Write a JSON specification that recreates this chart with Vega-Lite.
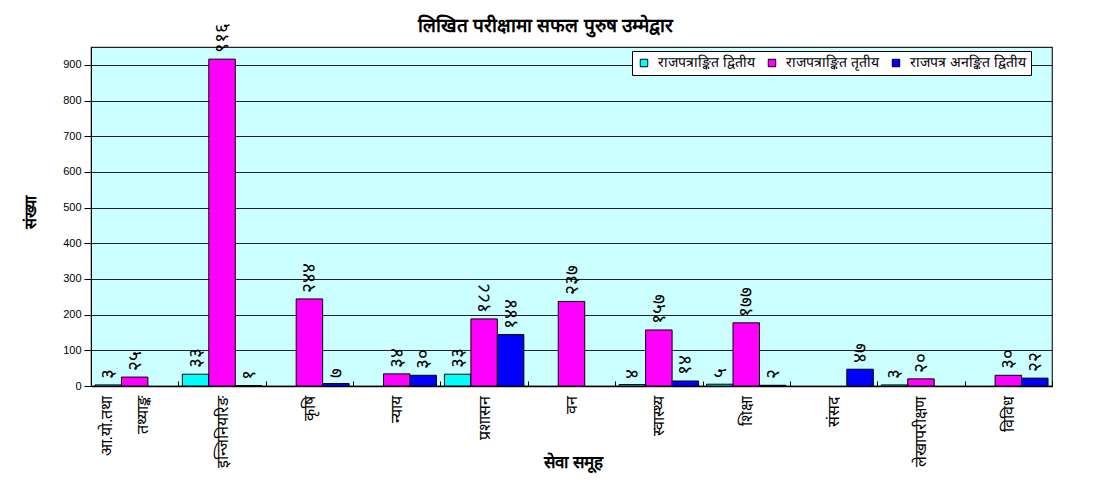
{
  "$schema": "https://vega.github.io/schema/vega-lite/v6.json",
  "width": 961,
  "height": 339,
  "autosize": {"type": "none"},
  "padding": {"left": 91, "top": 47, "right": 44, "bottom": 100},
  "background": "white",
  "title": {"text": "लिखित परीक्षामा सफल पुरुष उम्मेद्वार", "fontSize": 19, "fontWeight": "bold", "anchor": "middle", "dx": -26, "offset": -13, "color": "#000"},
  "config": {
    "font": "Liberation Sans",
    "view": {"fill": "#CCFFFF", "stroke": "#222", "strokeWidth": 1.2},
    "legend": {"strokeWidth": 1}
  },
  "data": {"values": [
    {"grp": "आ.यो.तथा तथ्याङ्क", "ser": "राजपत्राङ्कित द्वितीय", "v": 3, "lab": "३"},
    {"grp": "आ.यो.तथा तथ्याङ्क", "ser": "राजपत्राङ्कित तृतीय", "v": 25, "lab": "२५"},
    {"grp": "इन्जिनियरिङ", "ser": "राजपत्राङ्कित द्वितीय", "v": 33, "lab": "३३"},
    {"grp": "इन्जिनियरिङ", "ser": "राजपत्राङ्कित तृतीय", "v": 916, "lab": "९१६"},
    {"grp": "इन्जिनियरिङ", "ser": "राजपत्र अनङ्कित द्वितीय", "v": 1, "lab": "१"},
    {"grp": "कृषि", "ser": "राजपत्राङ्कित तृतीय", "v": 244, "lab": "२४४"},
    {"grp": "कृषि", "ser": "राजपत्र अनङ्कित द्वितीय", "v": 7, "lab": "७"},
    {"grp": "न्याय", "ser": "राजपत्राङ्कित तृतीय", "v": 34, "lab": "३४"},
    {"grp": "न्याय", "ser": "राजपत्र अनङ्कित द्वितीय", "v": 30, "lab": "३०"},
    {"grp": "प्रशासन", "ser": "राजपत्राङ्कित द्वितीय", "v": 33, "lab": "३३"},
    {"grp": "प्रशासन", "ser": "राजपत्राङ्कित तृतीय", "v": 188, "lab": "१८८"},
    {"grp": "प्रशासन", "ser": "राजपत्र अनङ्कित द्वितीय", "v": 144, "lab": "१४४"},
    {"grp": "वन", "ser": "राजपत्राङ्कित तृतीय", "v": 237, "lab": "२३७"},
    {"grp": "स्वास्थ्य", "ser": "राजपत्राङ्कित द्वितीय", "v": 4, "lab": "४"},
    {"grp": "स्वास्थ्य", "ser": "राजपत्राङ्कित तृतीय", "v": 157, "lab": "१५७"},
    {"grp": "स्वास्थ्य", "ser": "राजपत्र अनङ्कित द्वितीय", "v": 14, "lab": "१४"},
    {"grp": "शिक्षा", "ser": "राजपत्राङ्कित द्वितीय", "v": 5, "lab": "५"},
    {"grp": "शिक्षा", "ser": "राजपत्राङ्कित तृतीय", "v": 177, "lab": "१७७"},
    {"grp": "शिक्षा", "ser": "राजपत्र अनङ्कित द्वितीय", "v": 2, "lab": "२"},
    {"grp": "संसद", "ser": "राजपत्र अनङ्कित द्वितीय", "v": 47, "lab": "४७"},
    {"grp": "लेखापरीक्षण", "ser": "राजपत्राङ्कित द्वितीय", "v": 3, "lab": "३"},
    {"grp": "लेखापरीक्षण", "ser": "राजपत्राङ्कित तृतीय", "v": 20, "lab": "२०"},
    {"grp": "विविध", "ser": "राजपत्राङ्कित तृतीय", "v": 30, "lab": "३०"},
    {"grp": "विविध", "ser": "राजपत्र अनङ्कित द्वितीय", "v": 22, "lab": "२२"}
  ]},
  "encoding": {
    "x": {
      "field": "grp", "type": "nominal",
      "scale": {"domain": ["आ.यो.तथा तथ्याङ्क", "इन्जिनियरिङ", "कृषि", "न्याय", "प्रशासन", "वन", "स्वास्थ्य", "शिक्षा", "संसद", "लेखापरीक्षण", "विविध"], "paddingInner": 0, "paddingOuter": 0},
      "axis": {
        "title": "सेवा समूह", "titleFontWeight": "bold", "titleFontSize": 17, "titleColor": "#000",
        "titleX": 482, "titleY": 68, "titleBaseline": "top",
        "labelAngle": 270, "labelAlign": "right", "labelBaseline": "middle",
        "labelFontSize": 16, "labelColor": "#000", "labelPadding": 14, "labelLimit": 300,
        "labelExpr": "split(datum.label, ' ')", "labelLineHeight": 36,
        "labelOffset": {"condition": {"test": "datum.value === 'आ.यो.तथा तथ्याङ्क'", "value": -28}, "value": 0},
        "tickBand": "extent", "tickSize": -5, "tickColor": "#000",
        "domainColor": "#000", "domainWidth": 1.5, "grid": false
      }
    },
    "xOffset": {
      "field": "ser", "type": "nominal",
      "scale": {"domain": ["राजपत्राङ्कित द्वितीय", "राजपत्राङ्कित तृतीय", "राजपत्र अनङ्कित द्वितीय"], "paddingInner": 0, "paddingOuter": 0.15}
    },
    "y": {
      "field": "v", "type": "quantitative",
      "scale": {"domain": [0, 950], "nice": false},
      "axis": {
        "title": "संख्या", "titleFontSize": 16, "titleFontWeight": "bold", "titleColor": "#000",
        "titleAngle": 270, "titleX": -61, "titleY": 165, "titleAlign": "center", "titleBaseline": "middle",
        "values": [0, 100, 200, 300, 400, 500, 600, 700, 800, 900],
        "tickSize": 7, "tickColor": "#000", "labelFontSize": 11, "labelPadding": 3, "labelColor": "#000",
        "grid": true, "gridColor": "#222", "domainColor": "#000"
      }
    }
  },
  "layer": [
    {
      "mark": {"type": "bar", "stroke": "#000", "strokeWidth": 1},
      "encoding": {
        "color": {
          "field": "ser", "type": "nominal",
          "scale": {"domain": ["राजपत्राङ्कित द्वितीय", "राजपत्राङ्कित तृतीय", "राजपत्र अनङ्कित द्वितीय"], "range": ["#00FFFF", "#FF00FF", "#0000FF"]},
          "legend": {
            "title": null, "orient": "none", "legendX": 541, "legendY": 4, "direction": "horizontal",
            "fillColor": "white", "strokeColor": "#000", "padding": 5,
            "symbolType": "square", "symbolSize": 56, "symbolStrokeColor": "#000", "symbolStrokeWidth": 1, "symbolOpacity": 1,
            "labelFontSize": 14, "labelColor": "#000", "labelOffset": 7, "columnPadding": 10
          }
        }
      }
    },
    {
      "mark": {"type": "text", "angle": 270, "align": "left", "baseline": "middle", "dx": 6, "fontSize": 19, "color": "#000"},
      "encoding": {"text": {"field": "lab"}}
    }
  ]
}
